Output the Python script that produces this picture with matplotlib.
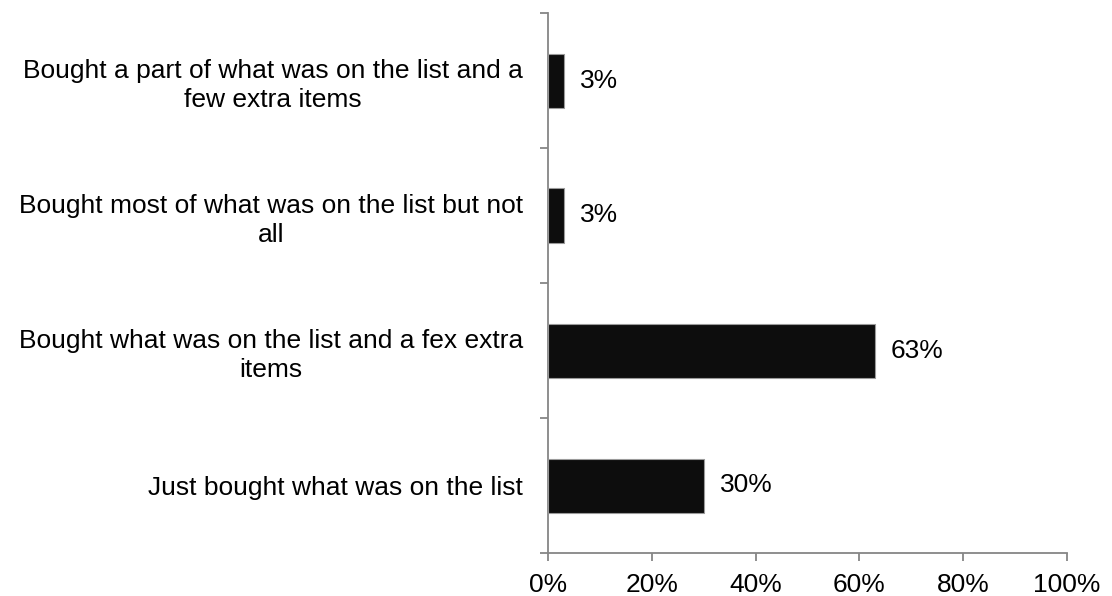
import matplotlib
matplotlib.use("Agg")
import matplotlib.pyplot as plt
from matplotlib.ticker import FixedLocator, PercentFormatter

plt.rcParams['font.family'] = ['Liberation Sans', 'DejaVu Sans']

# Survey answers, listed bottom to top
categories = [
    "Just bought what was on the list",
    "Bought what was on the list and a fex extra\nitems",
    "Bought most of what was on the list but not\nall",
    "Bought a part of what was on the list and a\nfew extra items",
]
shares = [30, 63, 3, 3]
x_ticks = [0, 20, 40, 60, 80, 100]

axis_grey = "#868686"
bar_color = "#0d0d0d"
font_size = 19

fig = plt.figure(figsize=(11.12, 5.96), dpi=100)
ax = fig.add_axes([548 / 1112, 1 - 553 / 596, (1067 - 548) / 1112, (553 - 13) / 596])

positions = list(range(len(categories)))
ax.barh(positions, shares, height=0.4, color=bar_color,
        edgecolor="#9a9a9a", linewidth=0.8, zorder=3)

for pos, val in zip(positions, shares):
    ax.annotate(f"{val:.0f}%", xy=(val, pos), xytext=(11.5, 0),
                textcoords="offset points", ha="left", va="center",
                fontsize=font_size, color="black")

ax.set_xlim(0, 100)
ax.set_ylim(-0.5, len(categories) - 0.5)

ax.xaxis.set_major_locator(FixedLocator(x_ticks))
ax.xaxis.set_major_formatter(PercentFormatter(decimals=0))

# Category separators as major ticks, names on minor ticks
ax.yaxis.set_major_locator(FixedLocator([p - 0.5 for p in positions] + [len(categories) - 0.5]))
ax.yaxis.set_major_formatter(plt.NullFormatter())
ax.yaxis.set_minor_locator(FixedLocator(positions))
ax.set_yticklabels(categories, minor=True, multialignment="center", linespacing=1.27)

for side in ("top", "right"):
    ax.spines[side].set_visible(False)
for side in ("left", "bottom"):
    ax.spines[side].set_color(axis_grey)
    ax.spines[side].set_linewidth(1.3)

ax.tick_params(axis="x", which="major", direction="out", length=5.5, width=1.3,
               color=axis_grey, labelsize=font_size, labelcolor="black", pad=9)
ax.tick_params(axis="y", which="major", direction="out", length=5.5, width=1.3,
               color=axis_grey)
ax.tick_params(axis="y", which="minor", length=0, labelsize=font_size,
               labelcolor="black", pad=18)

fig.savefig("out.png", dpi=100, facecolor="white")
